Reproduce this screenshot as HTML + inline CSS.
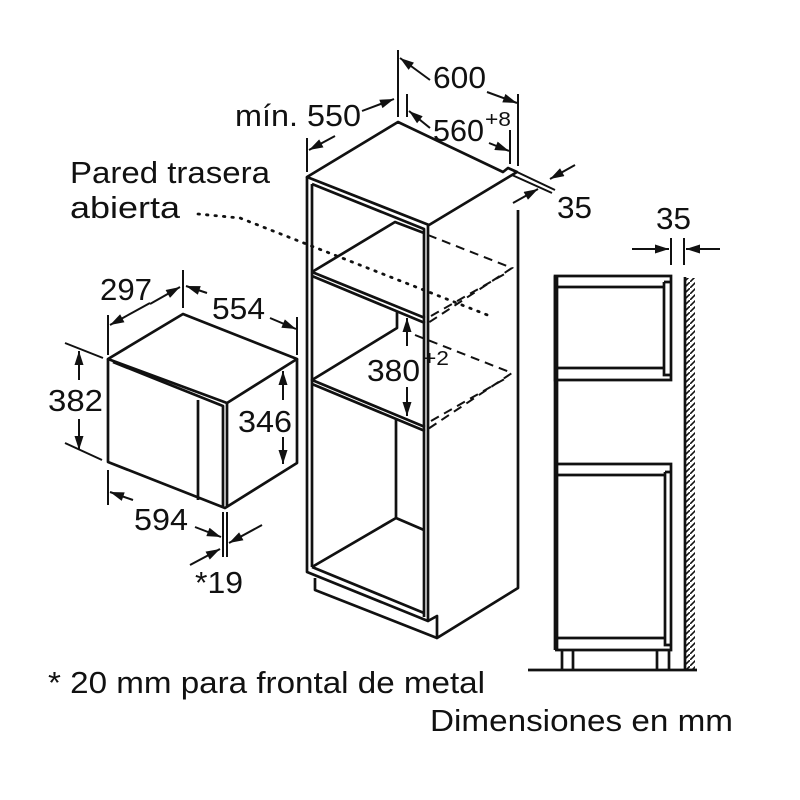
<!DOCTYPE html>
<html><head><meta charset="utf-8"><style>
html,body{margin:0;padding:0;background:#fff}
svg{display:block}
text{font-family:"Liberation Sans",Arial,sans-serif;fill:#111}
</style></head><body>
<svg width="800" height="800" viewBox="0 0 800 800" xmlns="http://www.w3.org/2000/svg">
<defs>
<marker id="a" viewBox="0 0 14 9" refX="14" refY="4.5" markerWidth="15" markerHeight="9" markerUnits="userSpaceOnUse" orient="auto">
<path d="M0,0 L14,4.5 L0,9 Z" fill="#111"/></marker>
<pattern id="h" width="6" height="6" patternUnits="userSpaceOnUse">
<path d="M0,6 L6,0" stroke="#111" stroke-width="1.6"/></pattern>
</defs>
<g fill="none" stroke="#111" stroke-width="2.7" stroke-linejoin="round">
<path d="M307,177 L398,122 L503,172 L508,168 L517,172 L512,175 L429,225 L307,177 Z"/>
<path d="M307,177 L307,572 L428,621 L428,225"/>
<path d="M312,184 L312,567"/>
<path d="M312,184 L424,229 L424,617"/>
<path d="M518,210 L518,588 L437,638 L437,616 L428,621"/>
<path d="M315,578 L315,590 L437,638"/>
<path d="M312,272 L395,222 L424,233"/>
<path d="M312,272 L425,318 M312,276 L425,323"/>
<path d="M397,312 L397,328 L312,380 L425,427 M312,384 L425,431"/>
<path d="M396,418 L396,518 L312,567 M396,518 L424,530 M312,567 L424,613"/>
</g>
<g fill="none" stroke="#111" stroke-width="2" stroke-dasharray="9,6">
<path d="M428,235 L512,268 L428,323 M431,316 L508,272"/>
<path d="M415,335 L512,373 L428,429 M431,421 L508,377"/>
</g>
<path d="M198,214 L240,218 L490,316" fill="none" stroke="#111" stroke-width="2.8" stroke-dasharray="1.5,7" stroke-linecap="round"/>
<g fill="none" stroke="#111" stroke-width="2">
<path d="M398,50 L398,117 M518,94 L518,166 M407,94 L407,117 M510,130 L510,164 M307,138 L307,172"/>
<path d="M517,172 L555,190 M512,175 L552,193"/>
<path d="M430,80 L400,58" marker-end="url(#a)"/>
<path d="M487,92 L517,103" marker-end="url(#a)"/>
<path d="M430,128 L409,111" marker-end="url(#a)"/>
<path d="M489,143 L509,151" marker-end="url(#a)"/>
<path d="M362,111 L394,99" marker-end="url(#a)"/>
<path d="M335,136 L309,150" marker-end="url(#a)"/>
<path d="M575,165 L550,179" marker-end="url(#a)"/>
<path d="M513,203 L538,189" marker-end="url(#a)"/>
<path d="M407,346 L407,318" marker-end="url(#a)"/>
<path d="M407,387 L407,416" marker-end="url(#a)"/>
</g>
<g fill="none" stroke="#111" stroke-width="2.7" stroke-linejoin="round">
<path d="M108,359 L183,314 L297,359 L227,403 L108,359 Z"/>
<path d="M108,359 L108,462 L225,508 L297,463 L297,359"/>
<path d="M113,362 L223,406 L223,508 M227,403 L227,506"/>
<path d="M198,400 L198,500"/>
</g>
<g fill="none" stroke="#111" stroke-width="2">
<path d="M108,315 L108,355 M183,270 L183,308 M297,317 L297,355"/>
<path d="M65,343 L103,358 M65,443 L102,460"/>
<path d="M108,470 L108,505 M223,512 L223,557 M227,512 L227,557"/>
<path d="M150,303 L110,325" marker-end="url(#a)"/>
<path d="M150,304 L180,287" marker-end="url(#a)"/>
<path d="M207,293 L186,286" marker-end="url(#a)"/>
<path d="M270,318 L296,329" marker-end="url(#a)"/>
<path d="M79,380 L79,351" marker-end="url(#a)"/>
<path d="M79,419 L79,450" marker-end="url(#a)"/>
<path d="M283,400 L283,371" marker-end="url(#a)"/>
<path d="M283,437 L283,464" marker-end="url(#a)"/>
<path d="M133,500 L110,492" marker-end="url(#a)"/>
<path d="M195,527 L221,537" marker-end="url(#a)"/>
<path d="M262,525 L229,543" marker-end="url(#a)"/>
<path d="M190,565 L220,549" marker-end="url(#a)"/>
</g>
<g fill="none" stroke="#111" stroke-width="2.7">
<path d="M555,276 L671,276 L671,380 L555,380 Z"/>
<path d="M555,287 L664,287 M555,368 L664,368 M664,282 L670,282 M664,282 L664,375 L670,375"/>
<path d="M555,464 L671,464 L671,650 L555,650 M555,475 L665,475 M555,638 L665,638 M665,472 L670,472 M665,472 L665,645 L670,645"/>
<path d="M555,276 L555,650 M557,276 L557,650"/>
<path d="M562,650 L562,670 M573,650 L573,670 M657,650 L657,670 M669,650 L669,670"/>
<path d="M528,670 L697,670"/>
<path d="M685,277 L685,670"/>
</g>
<rect x="686" y="278" width="9" height="391" fill="url(#h)"/>
<g fill="none" stroke="#111" stroke-width="2">
<path d="M671,238 L671,265 M684,238 L684,265"/>
<path d="M632,249 L669,249" marker-end="url(#a)"/>
<path d="M720,249 L686,249" marker-end="url(#a)"/>
</g>
<g font-size="31">
<text x="433" y="88" textLength="53" lengthAdjust="spacingAndGlyphs">600</text>
<text x="433" y="141" textLength="51" lengthAdjust="spacingAndGlyphs">560</text>
<text x="485" y="126" font-size="20" textLength="26" lengthAdjust="spacingAndGlyphs">+8</text>
<text x="235" y="126" textLength="126" lengthAdjust="spacingAndGlyphs">mín. 550</text>
<text x="557" y="218" textLength="35" lengthAdjust="spacingAndGlyphs">35</text>
<text x="656" y="229" textLength="35" lengthAdjust="spacingAndGlyphs">35</text>
<text x="70" y="183" textLength="200" lengthAdjust="spacingAndGlyphs">Pared trasera</text>
<text x="70" y="218" textLength="110" lengthAdjust="spacingAndGlyphs">abierta</text>
<text x="367" y="381" textLength="53" lengthAdjust="spacingAndGlyphs">380</text>
<text x="423" y="365" font-size="20" textLength="26" lengthAdjust="spacingAndGlyphs">+2</text>
<text x="100" y="300" textLength="52" lengthAdjust="spacingAndGlyphs">297</text>
<text x="212" y="319" textLength="53" lengthAdjust="spacingAndGlyphs">554</text>
<text x="48" y="411" textLength="55" lengthAdjust="spacingAndGlyphs">382</text>
<text x="238" y="432" textLength="54" lengthAdjust="spacingAndGlyphs">346</text>
<text x="134" y="530" textLength="54" lengthAdjust="spacingAndGlyphs">594</text>
<text x="195" y="593" textLength="48" lengthAdjust="spacingAndGlyphs">*19</text>
<text x="48" y="693" textLength="437" lengthAdjust="spacingAndGlyphs">* 20 mm para frontal de metal</text>
<text x="430" y="731" textLength="303" lengthAdjust="spacingAndGlyphs">Dimensiones en mm</text>
</g>
</svg>
</body></html>
